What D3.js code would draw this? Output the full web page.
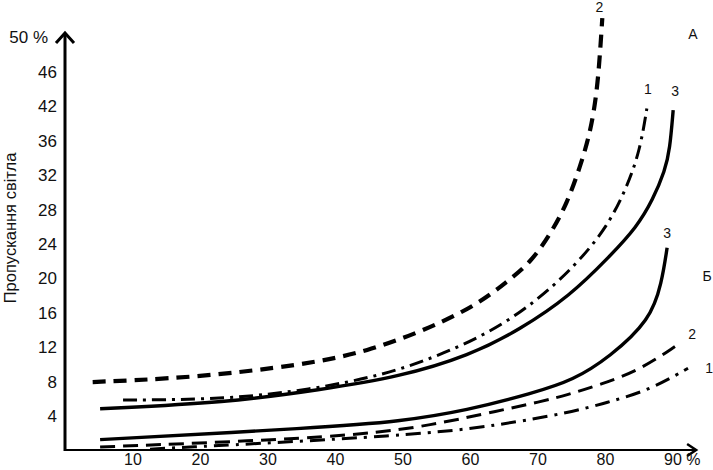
<!DOCTYPE html>
<html>
<head>
<meta charset="utf-8">
<script src="https://cdn.jsdelivr.net/npm/d3@7"></script>
<style>
  body { margin: 0; background: #fff; }
  text { font-family: "Liberation Sans Narrow", "Liberation Sans", Arial, sans-serif; fill: #111; }
</style>
</head>
<body>
<script>
var width = 713, height = 470

// tick values and their printed labels (as in the original scan)
var yTicks = [4, 8, 12, 16, 20, 24, 28, 32, 36, 40, 44, 48]
var yLabels = ["4", "8", "12", "16", "20", "24", "28", "32", "36", "42", "46", "50 %"]
var xTicks = [10, 20, 30, 40, 50, 60, 70, 80, 90]
var xLabels = ["10", "20", "30", "40", "50", "60", "70", "80", "90 %"]

// group A curves
var a1 = [[8.6, 5.8], [24, 5.9], [36.3, 7.0], [47.1, 8.7], [54.5, 10.7], [61.5, 13.1], [67.4, 15.9],
  [72.3, 19.0], [76.3, 22.1], [80.3, 25.9], [83.3, 30.6], [85.2, 34.9], [86.2, 39.7]]
var a2 = [[4.1, 7.9], [19, 8.4], [35.3, 9.9], [44.7, 11.4], [54.5, 14.3], [61.5, 17.1], [65.5, 19.6],
  [68.9, 21.7], [72, 25.2], [74.4, 28.7], [76.3, 32.9], [77.8, 36.8], [78.8, 41.5], [79.3, 46.5], [79.6, 50.2]]
var a3 = [[5.2, 4.8], [24, 5.5], [37.8, 7.0], [49.6, 8.5], [60, 11.0], [67.4, 14.0], [74.8, 17.9],
  [80.7, 22.5], [84.7, 25.9], [87.1, 29.1], [88.9, 32.5], [89.6, 34.9], [90.1, 39.5]]
// group Б curves
var b1 = [[12.6, 0.1], [52.1, 1.7], [64.4, 2.9], [74.4, 4.3], [80.3, 5.5], [86.7, 7.0], [92.3, 9.5]]
var b2 = [[5.2, 0.35], [42.2, 1.5], [54.5, 2.9], [64.4, 4.6], [70.4, 5.6], [74.4, 6.4], [79.3, 7.6],
  [85.2, 9.3], [90.7, 12.2]]
var b3 = [[5.2, 1.2], [37.8, 2.6], [49.6, 3.3], [59.6, 4.6], [69.3, 6.6], [75.3, 8.1], [80.7, 10.8],
  [86.7, 15.1], [88.4, 19.4], [89.2, 23.5]]

var curves = [
  {data: a2, name: "2", dash: "13,8", w: 4.2, lx: -3, ly: -6},
  {data: a1, name: "1", dash: "14,6,3,6", w: 3, lx: 1, ly: -14},
  {data: a3, name: "3", dash: null, w: 3.4, lx: 2, ly: -14},
  {data: b3, name: "3", dash: null, w: 3.4, lx: 0, ly: -10},
  {data: b2, name: "2", dash: "15,8", w: 3, lx: 15, ly: -6},
  {data: b1, name: "1", dash: "15,7,3,7", w: 3, lx: 21, ly: 5}
]

var svg = d3.select("body").append("svg")
    .attr("width", width)
    .attr("height", height)

var x = d3.scaleLinear().domain([0, 90]).range([65, 672.5])
var y = d3.scaleLinear().domain([0, 48]).range([450, 37])

//axis lines with arrow heads
svg.append("line")
  .attr("x1", x(0)).attr("y1", y(0) + 1)
  .attr("x2", x(0)).attr("y2", y(48) - 4)
  .attr("stroke", "#000").attr("stroke-width", 3)
svg.append("path")
  .attr("d", "M" + (x(0) - 9) + "," + (y(48) + 6) + "L" + x(0) + "," + (y(48) - 4) + "L" + (x(0) + 9) + "," + (y(48) + 6))
  .attr("fill", "none").attr("stroke", "#000").attr("stroke-width", 3)
svg.append("line")
  .attr("x1", x(0) - 1).attr("y1", y(0))
  .attr("x2", x(93.5)).attr("y2", y(0))
  .attr("stroke", "#000").attr("stroke-width", 2)
svg.append("path")
  .attr("d", "M" + (x(93.5) - 9) + "," + (y(0) - 6) + "L" + x(93.5) + "," + y(0) + "L" + (x(93.5) - 9) + "," + (y(0) + 6))
  .attr("fill", "none").attr("stroke", "#000").attr("stroke-width", 2.5)

// tick labels
var yAxis = svg.append("g")
  .attr("transform", "translate(" + (x(0) - 8) + ",0)")
  .call(d3.axisLeft(y).tickValues(yTicks).tickSize(0)
    .tickFormat(function(d, i) { return yLabels[i] }))
yAxis.select(".domain").remove()
yAxis.selectAll("text")
  .style("font-size", "17px")
  .attr("x", function(d, i) { return i == yLabels.length - 1 ? -9 : 0 })
  .attr("dy", "0.35em")

var xAxis = svg.append("g")
  .attr("transform", "translate(0," + (y(0) + 1) + ")")
  .call(d3.axisBottom(x).tickValues(xTicks).tickSize(0)
    .tickFormat(function(d, i) { return xLabels[i] }))
xAxis.select(".domain").remove()
xAxis.selectAll("text")
  .style("font-size", "16px")
  .attr("text-anchor", function(d) { return d == 90 ? "start" : "middle" })
  .attr("dx", function(d) { return d == 90 ? -9 : 0 })

// y axis title
svg.append("text")
  .attr("transform", "translate(16," + 228 + ") rotate(-90)")
  .attr("text-anchor", "middle")
  .style("font-family", "'Liberation Sans', Arial, sans-serif")
  .style("font-size", "16.5px")
  .text("Пропускання світла")

//curves
var line = d3.line()
  .x(function(d) { return x(d[0]) })
  .y(function(d) { return y(d[1]) })
  .curve(d3.curveBasis)

svg.append("g").selectAll("path")
  .data(curves)
  .enter().append("path")
  .attr("d", function(d) { return line(d.data) })
  .attr("fill", "none")
  .attr("stroke", "#000")
  .attr("stroke-width", function(d) { return d.w })
  .attr("stroke-dasharray", function(d) { return d.dash })

svg.append("g").selectAll("text")
  .data(curves)
  .enter().append("text")
  .attr("x", function(d) { var p = d.data[d.data.length - 1]; return x(p[0]) + d.lx })
  .attr("y", function(d) { var p = d.data[d.data.length - 1]; return y(p[1]) + d.ly })
  .attr("text-anchor", "middle")
  .style("font-family", "'Liberation Sans', Arial, sans-serif")
  .style("font-size", "14px")
  .text(function(d) { return d.name })

// group letters
svg.append("text").attr("x", 693).attr("y", 39).attr("text-anchor", "middle")
  .style("font-family", "'Liberation Sans', Arial, sans-serif").style("font-size", "14px").text("А")
svg.append("text").attr("x", 707).attr("y", 281).attr("text-anchor", "middle")
  .style("font-family", "'Liberation Sans', Arial, sans-serif").style("font-size", "14px").text("Б")
</script>
</body>
</html>
